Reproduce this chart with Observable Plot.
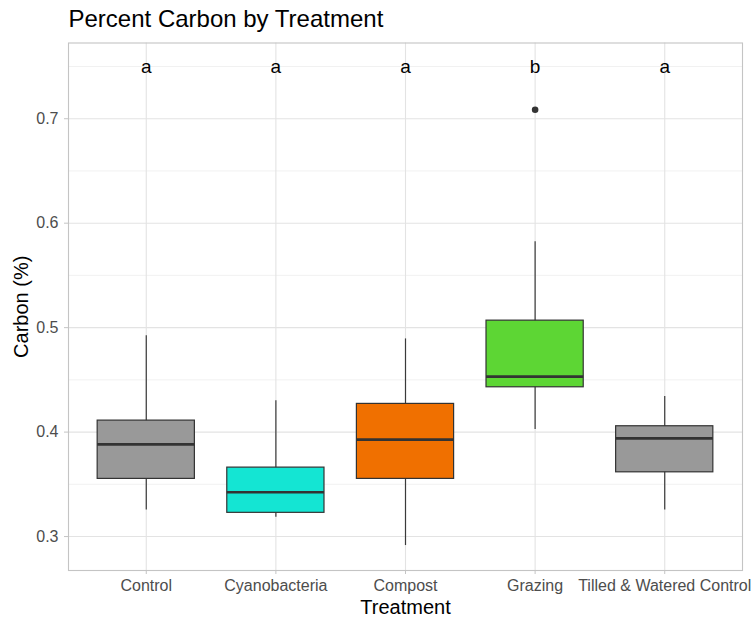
<!DOCTYPE html>
<html><head><meta charset="utf-8">
<script src="https://cdn.jsdelivr.net/npm/d3@7"></script>
<script src="https://cdn.jsdelivr.net/npm/@observablehq/plot@0.6"></script>
<style>body{margin:0;background:#fff;}</style>
</head><body><div id="chart"></div>
<script>
const categories = ["Control", "Cyanobacteria", "Compost", "Grazing", "Tilled & Watered Control"];
const lowerWhisker = [0.3255, 0.3185, 0.2914, 0.4026, 0.3255];
const q1 = [0.3552, 0.3227, 0.3552, 0.4429, 0.3615];
const median = [0.3883, 0.3424, 0.3928, 0.4531, 0.3940];
const q3 = [0.4110, 0.3660, 0.4270, 0.5067, 0.4056];
const upperWhisker = [0.4923, 0.4300, 0.4892, 0.5823, 0.4340];
const letters = ["a", "a", "a", "b", "a"];
const outlierCategory = ["Grazing"];
const outlierValue = [0.7086];
const fillColors = ["#999999", "#14E5D3", "#F07000", "#5DD634", "#999999"];
const majorTicks = [0.3, 0.4, 0.5, 0.6, 0.7];
const minorTicks = [0.35, 0.45, 0.55, 0.65, 0.75];
const letterLevel = 0.75;

const rows = categories.map((c, i) => ({
  category: c, lo: lowerWhisker[i], q1: q1[i], median: median[i], q3: q3[i], hi: upperWhisker[i], letter: letters[i]
}));
const outliers = outlierCategory.map((c, i) => ({category: c, value: outlierValue[i]}));

const font = "'Liberation Sans', Arial, Helvetica, sans-serif";
const chart = Plot.plot({
  width: 754, height: 621,
  marginTop: 42.5, marginBottom: 51, marginLeft: 68, marginRight: 12,
  style: {fontFamily: font, background: "#fff", overflow: "visible"},
  x: {type: "band", domain: categories, paddingInner: 0.25, paddingOuter: 0.225, round: false},
  y: {domain: [0.2675, 0.7725]},
  color: {domain: categories, range: fillColors},
  marks: [
    Plot.ruleY(minorTicks, {stroke: "#eeeeee", strokeWidth: 0.8}),
    Plot.ruleY(majorTicks, {stroke: "#e3e3e3", strokeWidth: 1.1}),
    Plot.ruleX(categories, {x: d => d, stroke: "#e3e3e3", strokeWidth: 1.1}),
    Plot.frame({stroke: "#c4c4c4", strokeWidth: 1.1}),
    Plot.axisY({ticks: majorTicks, tickSize: 4, tickPadding: 6, stroke: "#c4c4c4", fill: "#4d4d4d", fontSize: 16, label: null, tickFormat: d3.format(".1f")}),
    Plot.axisX({tickSize: 4, tickPadding: 5, stroke: "#c4c4c4", fill: "#4d4d4d", fontSize: 16, label: null}),
    Plot.ruleX(rows, {x: "category", y1: "lo", y2: "hi", stroke: "#3a3a3a", strokeWidth: 1.2}),
    Plot.barY(rows, {x: "category", y1: "q1", y2: "q3", fill: "category", stroke: "#333333", strokeWidth: 1.2}),
    Plot.tickY(rows, {x: "category", y: "median", stroke: "#333333", strokeWidth: 2.7}),
    Plot.dot(outliers, {x: "category", y: "value", r: 3.3, fill: "#333333", stroke: null}),
    Plot.text(rows, {x: "category", y: () => letterLevel, text: "letter", fontSize: 19, fill: "#000", lineAnchor: "middle"}),
    Plot.text(["Carbon (%)"], {frameAnchor: "left", dx: -47, rotate: -90, fontSize: 20, fill: "#000", lineAnchor: "middle", textAnchor: "middle"}),
    Plot.text(["Treatment"], {frameAnchor: "bottom", dy: 37, fontSize: 20, fill: "#000", lineAnchor: "middle"}),
    Plot.text(["Percent Carbon by Treatment"], {frameAnchor: "top-left", dy: -23.5, fontSize: 24, fill: "#000", lineAnchor: "middle", textAnchor: "start"})
  ]
});
document.getElementById("chart").appendChild(chart);
</script>
</body></html>
